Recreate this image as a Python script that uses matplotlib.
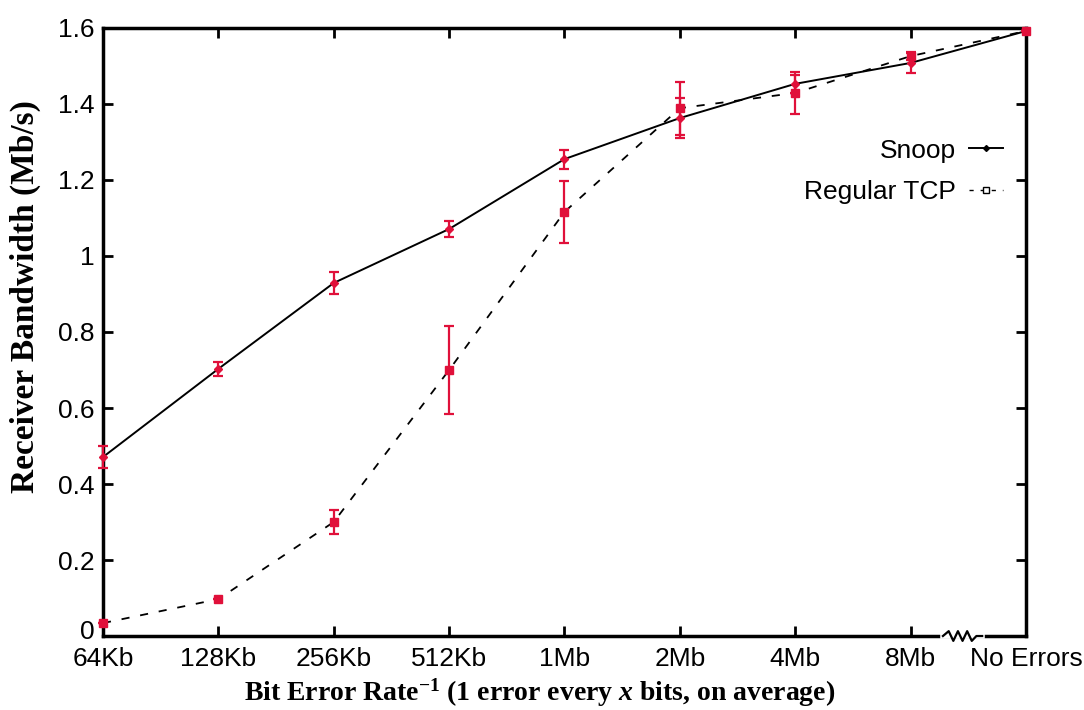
import numpy as np
import matplotlib
matplotlib.use('Agg')
import matplotlib.pyplot as plt
from matplotlib.lines import Line2D
import matplotlib.transforms as mtransforms

plt.rcParams['mathtext.fontset'] = 'custom'
plt.rcParams['mathtext.rm'] = 'Liberation Serif:bold'
plt.rcParams['mathtext.bf'] = 'Liberation Serif:bold'
plt.rcParams['mathtext.bfit'] = 'Liberation Serif:italic:bold'
plt.rcParams['mathtext.it'] = 'Liberation Serif:italic:bold'

labels = ['64Kb', '128Kb', '256Kb', '512Kb', '1Mb', '2Mb', '4Mb', '8Mb', 'No Errors']
snoop = [0.471, 0.703, 0.929, 1.071, 1.255, 1.363, 1.453, 1.508, 1.592]
snoop_err = [0.030, 0.018, 0.029, 0.021, 0.025, 0.053, 0.024, 0.026, 0.0]
tcp = [0.034, 0.097, 0.300, 0.700, 1.116, 1.389, 1.429, 1.526, 1.592]
tcp_err = [0.0, 0.0, 0.032, 0.115, 0.082, 0.070, 0.055, 0.011, 0.0]

red = '#e0103a'
x = np.arange(len(labels))

fig = plt.figure(figsize=(10.84, 7.10), dpi=100)
ax = fig.add_axes([0.095, 0.1042, 0.8515, 0.8564])

ax.plot(x, snoop, color='black', linewidth=1.4, zorder=2)
ax.plot(x, tcp, color='black', linewidth=1.3, linestyle=(0, (4.5, 6)), zorder=2)
e1 = ax.errorbar(x, snoop, yerr=snoop_err, fmt='D', color=red, markersize=4,
                 capsize=3.5, elinewidth=1.6, capthick=1.6, zorder=3)
e2 = ax.errorbar(x, tcp, yerr=tcp_err, fmt='s', color=red, markersize=6,
                 capsize=3.5, elinewidth=1.6, capthick=1.6, zorder=3)
for eb in (e1, e2):
    for art in eb.get_children():
        art.set_clip_on(False)

ax.set_xlim(0, 8)
ax.set_ylim(0, 1.6)
ax.set_xticks(x)
ax.set_xticklabels(labels)
ax.set_yticks(np.arange(0, 1.61, 0.2))
ax.set_yticklabels(['0', '0.2', '0.4', '0.6', '0.8', '1', '1.2', '1.4', '1.6'])
ax.tick_params(direction='in', length=7, width=2, top=True, right=True,
               labelsize=19, pad=6)
ax.tick_params(axis='x', pad=8)
for lab in ax.get_xticklabels() + ax.get_yticklabels():
    lab.set_family('Liberation Sans')
# nudge the "0" label up a little so it clears "64Kb"
zero = ax.get_yticklabels()[0]
zero.set_transform(zero.get_transform() +
                   mtransforms.ScaledTranslation(0, 5 / 72, fig.dpi_scale_trans))
for s in ax.spines.values():
    s.set_linewidth(2.5)

ax.set_xlabel(r'Bit Error Rate$^{\mathbf{-1}}$ (1 error every $\mathbfit{x}$ bits, on average)',
              fontfamily='Liberation Serif', fontweight='bold', fontsize=20)
ax.xaxis.set_label_coords(0.473, -0.094)
ax.set_ylabel('Receiver Bandwidth (Mb/s)', fontfamily='Liberation Serif',
              fontweight='bold', fontsize=24)
ax.yaxis.set_label_coords(-0.0845, 0.5576)
ax.yaxis.label.set_va('center')
ax.xaxis.label.set_va('center')

# axis break between 8Mb and No Errors
trans = mtransforms.blended_transform_factory(ax.transData, ax.transAxes)
ax.plot([7.28, 7.62], [0, 0], color='white', linewidth=4, transform=trans,
        clip_on=False, zorder=5)
zx = [7.28, 7.33, 7.37, 7.41, 7.45, 7.49, 7.53, 7.57, 7.62]
zy = [0, 0.008, -0.008, 0.008, -0.008, 0.008, -0.008, 0, 0]
ax.plot(zx, zy, color='black', linewidth=1.6, transform=trans, clip_on=False, zorder=6)

handles = [Line2D([], [], color='black', linewidth=1.4, marker='D', markersize=3),
           Line2D([], [], color='black', linewidth=1.0, linestyle=(0, (3, 5)),
                  marker='s', markersize=4, markerfacecolor='white')]
leg = ax.legend(handles, ['Snoop', 'Regular TCP'], loc='upper right',
                bbox_to_anchor=(1.001, 0.857), frameon=False, markerfirst=False,
                handlelength=1.3, labelspacing=0.65, handletextpad=0.5,
                prop={'family': 'Liberation Sans', 'size': 19})

fig.savefig('out.png', dpi=100)
